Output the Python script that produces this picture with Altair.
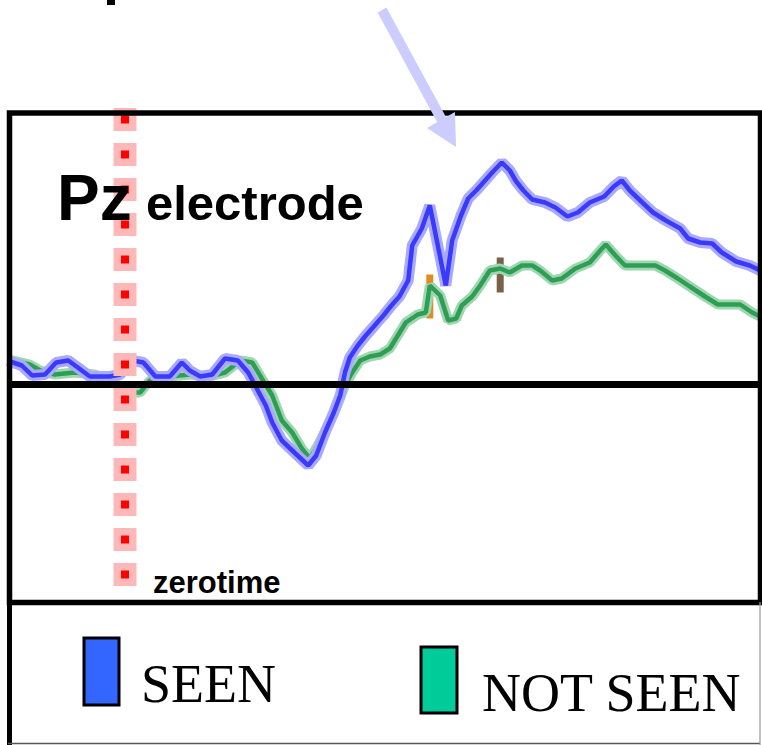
import altair as alt
import pandas as pd

# ---- data (time in ms relative to stimulus, amplitude in µV) ----
seen_t = [-140, -129, -116, -100, -86, -71, -59, -44, -19, -6, 9, 23, 38, 56, 71, 81, 94, 109,
          125, 141, 154, 166, 176, 184, 196, 213, 229, 239, 250, 261, 269, 275, 281, 291, 301,
          311, 323, 333, 343, 354, 359, 371, 381, 389, 401, 409, 420, 429, 439, 449, 459, 471,
          481, 489, 498, 509, 525, 538, 553, 566, 581, 599, 611, 621, 631, 648, 660, 676, 694,
          704, 719, 734, 746, 764, 781, 794]
seen_v = [1.1, 0.95, 0.45, 0.5, 1.1, 1.2, 0.85, 0.4, 0.4, 0.5, 1.2, 1.1, 0.4, 0.4, 1.1, 0.7, 0.4, 0.5,
          1.3, 1.2, 0.6, -0.3, -1.05, -1.9, -2.8, -3.45, -4.05, -3.55, -2.4, -1.4, -0.55, 0.6, 1.35,
          1.95, 2.45, 2.9, 3.45, 3.95, 4.4, 5.2, 6.95, 7.8, 8.95, 7.35, 4.95, 7.2, 8.45, 9.3, 9.7,
          10.15, 10.6, 11.1, 10.7, 10.15, 9.7, 9.25, 9.1, 8.85, 8.4, 8.6, 9.1, 9.4, 9.9, 10.2, 9.7,
          9.05, 8.6, 8.2, 7.8, 7.3, 7.1, 7.05, 6.6, 6.15, 5.95, 5.7]

not_seen_t = [-140, -119, -106, -88, -63, -38, -16, 0, 19, 31, 56, 81, 106, 125, 144, 159, 171,
              184, 196, 209, 221, 231, 241, 254, 265, 275, 284, 294, 306, 319, 331, 341, 351, 366,
              376, 381, 394, 404, 414, 421, 434, 444, 456, 469, 481, 496, 509, 519, 534, 546, 563,
              581, 594, 601, 613, 625, 644, 663, 675, 691, 706, 725, 741, 769, 784, 794]
not_seen_v = [1.2, 1.0, 0.7, 0.5, 0.6, 0.5, 0.2, -0.4, -0.4, 0.2, 0.4, 0.5, 0.4, 0.6, 1.2, 1.1, 0.3,
              -0.55, -1.8, -2.4, -3.2, -3.7, -3.05, -2.05, -1.05, -0.05, 0.6, 1.2, 1.4, 1.5, 1.8,
              2.45, 3.1, 3.5, 3.6, 4.95, 4.45, 3.2, 3.3, 3.95, 4.4, 4.95, 5.7, 5.8, 5.6, 5.95, 5.95,
              5.7, 5.2, 5.3, 5.8, 6.1, 6.7, 7.0, 6.45, 5.95, 5.95, 5.95, 5.7, 5.3, 4.9, 4.4, 4.0,
              4.0, 3.6, 3.4]

# latency markers on the NOT SEEN trace (time, from, to)
marker_t = [381, 469]
marker_v1 = [5.5, 6.35]
marker_v2 = [3.3, 4.6]
marker_colors = ["#e08a20", "#7a6048"]

series_names = ["SEEN", "NOT SEEN"]
series_core = ["#3a3aff", "#2f9e55"]
series_halo = ["#a9a9ff", "#9ed6b0"]
legend_fill = ["#3366ff", "#00cc99"]

# ---- scales: whole canvas is the plot area ----
xs = alt.Scale(domain=[-156.25, 796.25], nice=False, zero=False)
ys = alt.Scale(domain=[-18.025, 19.225], nice=False, zero=False)
X = alt.X("t:Q", scale=xs, axis=None)
Y = alt.Y("v:Q", scale=ys, axis=None)

seen_df = pd.DataFrame({"t": seen_t, "v": seen_v})
not_df = pd.DataFrame({"t": not_seen_t, "v": not_seen_v})
mark_df = pd.DataFrame({"t": marker_t, "v": marker_v1, "v2": marker_v2, "c": marker_colors})
one = pd.DataFrame({"t": [0], "v": [0]})


def line(df, color, width):
    return alt.Chart(df).mark_line(color=color, strokeWidth=width, strokeJoin="bevel",
                                   strokeCap="square").encode(x=X, y=Y)


markers = alt.Chart(mark_df).mark_rule(strokeWidth=7).encode(
    x=X, y=Y, y2="v2:Q", color=alt.Color("c:N", scale=None))

green_h = line(not_df, series_halo[1], 10)
green_c = line(not_df, series_core[1], 4.5)
blue_h = line(seen_df, series_halo[0], 11)
blue_c = line(seen_df, series_core[0], 4.5)

zt_halo = alt.Chart(one).mark_rule(color="#ffb8b8", strokeWidth=23, strokeDash=[23, 12],
                                   strokeCap="butt").encode(
    x=X, y=alt.value(108), y2=alt.value(593))
zt_core = alt.Chart(one).mark_rule(color="#ff0000", strokeWidth=8, strokeDash=[8, 27],
                                   strokeDashOffset=27.5, strokeCap="butt").encode(
    x=X, y=alt.value(108), y2=alt.value(593))

zero_line = alt.Chart(one).mark_rule(color="black", strokeWidth=7).encode(
    y=Y, x=alt.value(7), x2=alt.value(762))

frame = alt.Chart(one).mark_rect(fillOpacity=0, stroke="black", strokeWidth=5.5).encode(
    x=alt.value(9.5), x2=alt.value(760.5), y=alt.value(113), y2=alt.value(602.5))
low_left = alt.Chart(one).mark_rule(color="black", strokeWidth=5).encode(
    x=alt.value(9.5), y=alt.value(602), y2=alt.value(745))
low_bottom = alt.Chart(one).mark_rule(color="#555555", strokeWidth=1.5).encode(
    y=alt.value(743.5), x=alt.value(8), x2=alt.value(760))
low_right = alt.Chart(one).mark_rule(color="#999999", strokeWidth=1.2).encode(
    x=alt.value(760), y=alt.value(602), y2=alt.value(745))

top_glyph = alt.Chart(one).mark_rect(color="black").encode(
    x=alt.value(107), x2=alt.value(115), y=alt.value(0), y2=alt.value(5))

arrow_shaft = alt.Chart(one).mark_rule(color="#ccccff", strokeWidth=10, strokeCap="butt").encode(
    x=alt.value(382), y=alt.value(10), x2=alt.value(444), y2=alt.value(124))
arrow_head = alt.Chart(one).mark_point(
    shape="M0,0 L-0.83,-0.54 L-0.03,-1 Z", size=4900, filled=True, color="#ccccff",
    opacity=1, strokeWidth=0).encode(x=alt.value(456), y=alt.value(147))

pz = alt.Chart(one).mark_text(text="Pz", font="Liberation Sans", fontWeight="bold",
                              fontSize=64, align="left", baseline="alphabetic",
                              color="black").encode(x=alt.value(57), y=alt.value(220))
electrode = alt.Chart(one).mark_text(text="electrode", font="Liberation Sans", fontWeight="bold",
                                     fontSize=49, align="left", baseline="alphabetic",
                                     color="black").encode(x=alt.value(146), y=alt.value(220))
zerotime = alt.Chart(one).mark_text(text="zerotime", font="Liberation Sans", fontWeight="bold",
                                    fontSize=31, align="left", baseline="alphabetic",
                                    color="black").encode(x=alt.value(153), y=alt.value(593))

leg_rects = []
leg_pos = [(84, 119, 638, 705, 141, 702), (421, 457, 647, 713, 482, 711)]
for name, fill, (x1, x2, y1, y2, tx, ty) in zip(series_names, legend_fill, leg_pos):
    leg_rects.append(alt.Chart(one).mark_rect(fill=fill, stroke="black", strokeWidth=3).encode(
        x=alt.value(x1), x2=alt.value(x2), y=alt.value(y1), y2=alt.value(y2)))
    leg_rects.append(alt.Chart(one).mark_text(
        text=name, font="Liberation Serif, serif", fontSize=54,
        align="left", baseline="alphabetic", color="black").encode(
        x=alt.value(tx), y=alt.value(ty)))

chart = alt.layer(
    markers, green_h, green_c, blue_h, blue_c, zt_halo, zt_core, zero_line, frame,
    low_left, low_bottom, low_right, top_glyph, arrow_shaft, arrow_head, pz, electrode,
    zerotime, *leg_rects
).properties(
    width=762, height=745, padding=0, autosize=alt.AutoSizeParams(type="none"),
    background="white"
).configure_view(strokeWidth=0)

chart.save("out.html", embed_options={"renderer": "svg", "actions": False})
